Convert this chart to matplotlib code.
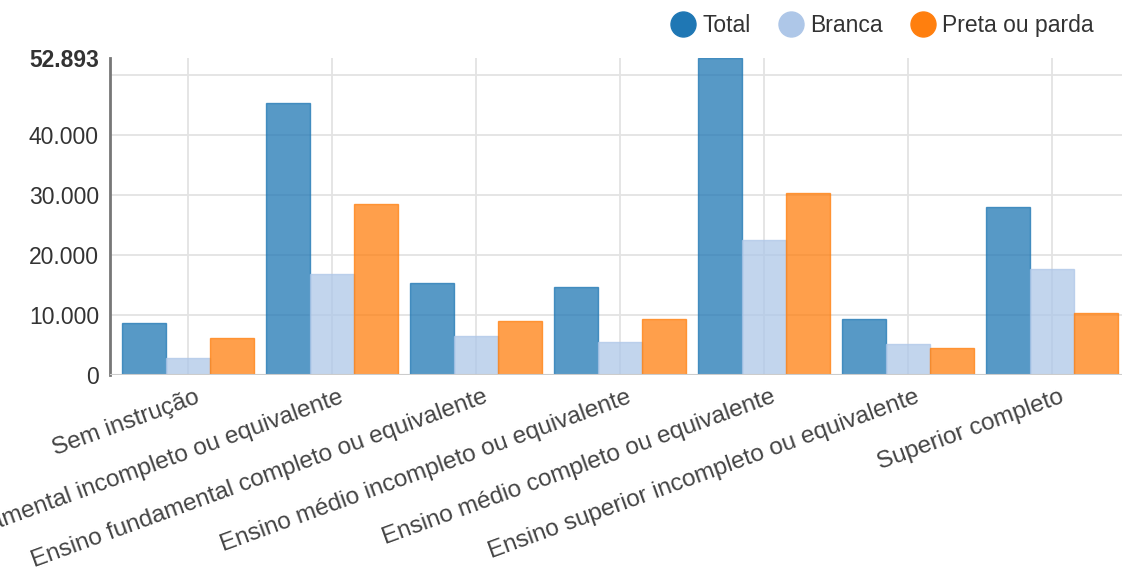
import numpy as np
import matplotlib.pyplot as plt
from matplotlib.lines import Line2D
from matplotlib.transforms import ScaledTranslation

plt.rcParams['font.family'] = ['Liberation Sans', 'DejaVu Sans']

categories = ['Sem instrução',
              'Ensino fundamental incompleto ou equivalente',
              'Ensino fundamental completo ou equivalente',
              'Ensino médio incompleto ou equivalente',
              'Ensino médio completo ou equivalente',
              'Ensino superior incompleto ou equivalente',
              'Superior completo']
total = [8720, 45380, 15330, 14670, 52893, 9330, 28000]
branca = [2830, 16780, 6500, 5500, 22500, 5170, 17670]
preta = [6220, 28450, 9000, 9330, 30330, 4500, 10330]
series = ['Total', 'Branca', 'Preta ou parda']
colors = ['#1f77b4', '#aec7e8', '#ff7f0e']
yticks = [0, 10000, 20000, 30000, 40000, 52893]
ytick_labels = ['0', '10.000', '20.000', '30.000', '40.000', '52.893']
ymax = 52893

fig = plt.figure(figsize=(11.22, 5.7), dpi=100)
ax = fig.add_axes([110 / 1122, 195 / 570, 1012 / 1122, 317 / 570])

x = np.arange(len(categories))
w = 0.305
for i, (vals, c) in enumerate(zip([total, branca, preta], colors)):
    ax.bar(x + (i - 1) * w, vals, width=w, color=c, alpha=0.75,
           edgecolor=c, linewidth=1, zorder=3)

ax.set_xlim(-0.542, 6.486)
ax.set_ylim(0, ymax)

# grid
for v in [10000, 20000, 30000, 40000, 50000]:
    ax.axhline(v, color='#e3e3e3', lw=1.3, zorder=1)
for xi in x:
    ax.axvline(xi, color='#e3e3e3', lw=1.3, zorder=1)
ax.axhline(0, color='#cccccc', lw=1.5, zorder=4)

for s in ['top', 'right', 'bottom']:
    ax.spines[s].set_visible(False)
ax.spines['left'].set_color('#777777')
ax.spines['left'].set_linewidth(2)

ax.set_yticks(yticks)
ax.set_yticklabels(ytick_labels)
ax.tick_params(axis='y', length=0, pad=8, labelsize=16.5, labelcolor='#333333')
ax.get_yticklabels()[-1].set_fontweight('bold')

ax.set_xticks(x)
ax.set_xticklabels(categories, rotation=20, ha='right', va='top',
                   rotation_mode='anchor')
ax.tick_params(axis='x', length=0, pad=8, labelsize=17.5, labelcolor='#444444')
shift = ScaledTranslation(7 / 100, 0, fig.dpi_scale_trans)
for lab in ax.get_xticklabels():
    lab.set_transform(lab.get_transform() + shift)

handles = [Line2D([], [], marker='o', ls='', markersize=18, color=c) for c in colors]
fig.legend(handles, series, loc='upper right',
           bbox_to_anchor=(1094 / 1122, 1 - 14 / 570),
           ncol=3, frameon=False, fontsize=16.5, handletextpad=0.3,
           columnspacing=1.2, handlelength=1.1, borderpad=0,
           borderaxespad=0, labelcolor='#333333')

fig.savefig('out.png', dpi=100)
